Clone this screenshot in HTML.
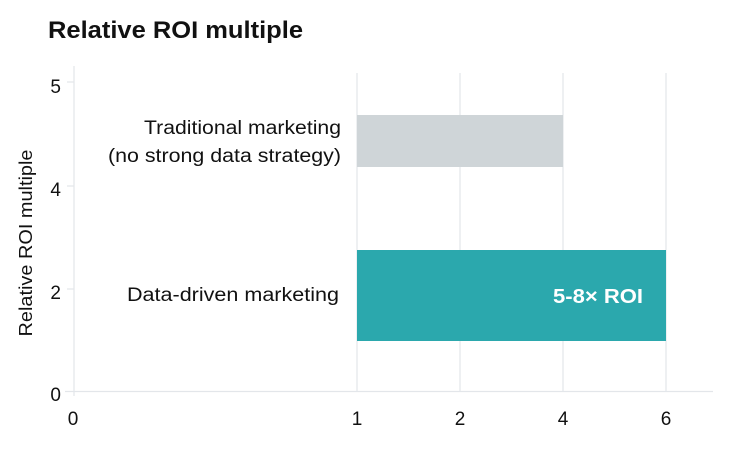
<!DOCTYPE html>
<html><head><meta charset="utf-8"><style>
html,body{margin:0;padding:0;background:#fff;}
svg{display:block;font-family:"Liberation Sans",sans-serif;}
</style></head><body>
<svg width="735" height="453" viewBox="0 0 735 453">
<text x="48" y="38" font-size="24" font-weight="bold" fill="#111" textLength="255" lengthAdjust="spacingAndGlyphs">Relative ROI multiple</text>
<g stroke="#e3e6ea" stroke-width="1.2">
<line x1="74" y1="66" x2="74" y2="396"/>
<line x1="357" y1="73" x2="357" y2="392"/>
<line x1="460" y1="73" x2="460" y2="392"/>
<line x1="563" y1="73" x2="563" y2="392"/>
<line x1="666" y1="73" x2="666" y2="392"/>
<line x1="65" y1="391.5" x2="713" y2="391.5"/>
<line x1="67" y1="82" x2="74" y2="82"/>
<line x1="67" y1="186" x2="74" y2="186"/>
<line x1="67" y1="289" x2="74" y2="289"/>
</g>
<rect x="357" y="115" width="206" height="52" fill="#cfd5d8"/>
<rect x="357" y="250" width="309" height="91" fill="#2ba8ad"/>
<g font-size="19" fill="#111" text-anchor="end">
<text x="61" y="93">5</text>
<text x="61" y="196">4</text>
<text x="61" y="299">2</text>
<text x="61" y="401">0</text>
</g>
<g font-size="19" fill="#111">
<text x="144" y="134" textLength="197" lengthAdjust="spacingAndGlyphs">Traditional marketing</text>
<text x="108" y="162" textLength="233" lengthAdjust="spacingAndGlyphs">(no strong data strategy)</text>
<text x="127" y="301" textLength="212" lengthAdjust="spacingAndGlyphs">Data-driven marketing</text>
</g>
<g font-size="19" fill="#111" text-anchor="middle">
<text x="73" y="425">0</text>
<text x="357" y="425">1</text>
<text x="460" y="425">2</text>
<text x="563" y="425">4</text>
<text x="666" y="425">6</text>
</g>
<text x="553" y="303" font-size="20" font-weight="bold" fill="#fff" textLength="90" lengthAdjust="spacingAndGlyphs">5-8× ROI</text>
<text transform="translate(32,243) rotate(-90)" font-size="18" fill="#111" text-anchor="middle" textLength="187" lengthAdjust="spacingAndGlyphs">Relative ROI multiple</text>
</svg>
</body></html>
